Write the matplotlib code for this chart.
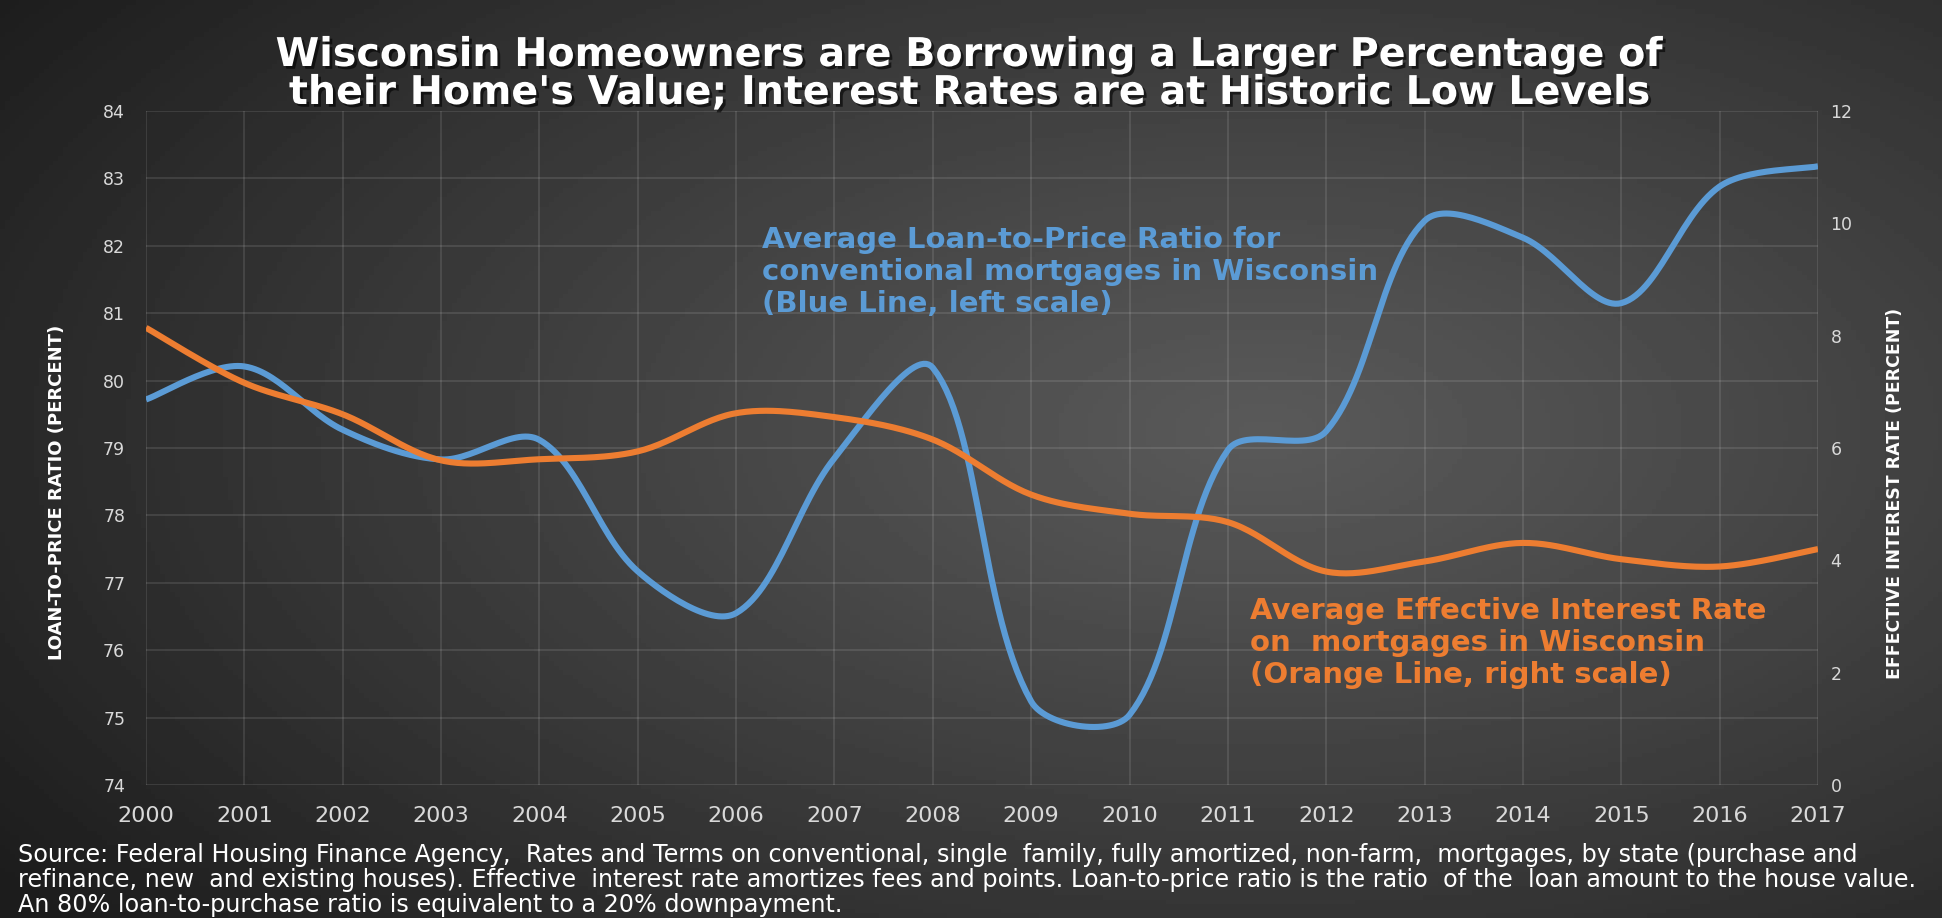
import numpy as np
import matplotlib
matplotlib.use("Agg")
from matplotlib import pyplot as plt
from matplotlib import patheffects

# data (annual values, Wisconsin)
years = list(range(2000, 2018))
loan_to_price = [79.72, 80.21, 79.27, 78.83, 79.12, 77.17, 76.55, 78.85, 80.19,
                 75.24, 75.04, 78.97, 79.25, 82.37, 82.12, 81.15, 82.88, 83.18]
interest_rate = [8.14, 7.16, 6.60, 5.78, 5.80, 5.94, 6.62, 6.55, 6.15,
                 5.17, 4.83, 4.68, 3.80, 3.98, 4.31, 4.02, 3.89, 4.20]

left_ticks = list(range(74, 85))
right_ticks = list(range(0, 13, 2))

title_lines = ["Wisconsin Homeowners are Borrowing a Larger Percentage of",
               "their Home's Value; Interest Rates are at Historic Low Levels"]
blue_note = ("Average Loan-to-Price Ratio for\n"
             "conventional mortgages in Wisconsin\n"
             "(Blue Line, left scale)")
orange_note = ("Average Effective Interest Rate\n"
               "on  mortgages in Wisconsin\n"
               "(Orange Line, right scale)")
footer = ("Source: Federal Housing Finance Agency,  Rates and Terms on conventional, single  family, "
          "fully amortized, non-farm,  mortgages, by state (purchase and\n"
          "refinance, new  and existing houses). Effective  interest rate amortizes fees and points. "
          "Loan-to-price ratio is the ratio  of the  loan amount to the house value.\n"
          "An 80% loan-to-purchase ratio is equivalent to a 20% downpayment.")

BLUE = "#5B9BD5"
ORANGE = "#ED7D31"
TICK = "#d9d9d9"


def excel_smooth(ax, xs, ys, n=30):
    # bezier smoothing done in screen space, handles scaled by chord length
    pts = ax.transData.transform(np.column_stack([xs, ys]))
    out = [pts[0]]
    m = len(pts)
    d = np.hypot(*np.diff(pts, axis=0).T)
    t = np.linspace(0, 1, n)[1:, None]
    for i in range(m - 1):
        p0, p3 = pts[i], pts[i + 1]
        if i == 0:
            h0 = (p3 - p0) / 6
        else:
            h0 = (pts[i + 1] - pts[i - 1]) * d[i] / (d[i - 1] + d[i]) / 3
        if i + 2 >= m:
            h1 = (p3 - p0) / 6
        else:
            h1 = (pts[i + 2] - pts[i]) * d[i] / (d[i] + d[i + 1]) / 3
        c1, c2 = p0 + h0, p3 - h1
        seg = ((1 - t) ** 3) * p0 + 3 * ((1 - t) ** 2) * t * c1 + 3 * (1 - t) * t ** 2 * c2 + t ** 3 * p3
        out.extend(seg)
    out = ax.transData.inverted().transform(np.array(out))
    return out[:, 0], out[:, 1]


fig = plt.figure(figsize=(19.42, 9.18), dpi=100)

# background radial gradient
bg = fig.add_axes([0, 0, 1, 1], zorder=-5)
gx, gy = np.meshgrid(np.linspace(0, 1, 400), np.linspace(0, 1, 200))
r = np.sqrt(((gx - 0.65) / 0.8) ** 2 + ((gy - 0.47) / 0.85) ** 2)
shade = 0.35 - 0.24 * np.clip(r, 0, 1) ** 1.1
bg.imshow(shade, cmap="gray", vmin=0, vmax=1, aspect="auto", extent=[0, 1, 1, 0])
bg.axis("off")

ax = fig.add_axes([146 / 1942, 1 - 785 / 918, 1672 / 1942, 674 / 918])
ax.set_facecolor("none")
ax2 = ax.twinx()
ax2.set_facecolor("none")

ax.set_xlim(2000, 2017)
ax.set_ylim(74, 84)
ax2.set_ylim(0, 12)
ax.set_xticks(years)
ax.set_xticklabels([str(y) for y in years], fontsize=16, color=TICK)
ax.set_yticks(left_ticks)
ax.set_yticklabels([str(v) for v in left_ticks], fontsize=12.5, color=TICK)
ax2.set_yticks(right_ticks)
ax2.set_yticklabels([str(v) for v in right_ticks], fontsize=12.5, color=TICK)
ax.tick_params(axis="x", length=0, pad=15)
ax.tick_params(axis="y", length=0, pad=15)
ax2.tick_params(axis="y", length=0, pad=9)
ax.grid(True, color="white", alpha=0.12, linewidth=1.2)
for a in (ax, ax2):
    for s in a.spines.values():
        s.set_visible(False)

bx, by = excel_smooth(ax, years, loan_to_price)
ax.plot(bx, by, color=BLUE, linewidth=4.4, solid_capstyle="butt", zorder=3)
ox, oy = excel_smooth(ax2, years, interest_rate)
ax2.plot(ox, oy, color=ORANGE, linewidth=4.4, solid_capstyle="butt", zorder=3)

shadow = [patheffects.withSimplePatchShadow(offset=(2, -2), shadow_rgbFace="black", alpha=0.6)]
fig.text(0.4995, 1 - 55 / 918, title_lines[0], ha="center", va="center", fontsize=28.5,
         fontweight="bold", color="white", path_effects=shadow)
fig.text(0.4995, 1 - 93 / 918, title_lines[1], ha="center", va="center", fontsize=28.5,
         fontweight="bold", color="white", path_effects=shadow)

fig.text(762 / 1942, 1 - 272 / 918, blue_note, ha="left", va="center", fontsize=21,
         fontweight="bold", color=BLUE, linespacing=1.2)
fig.text(1250 / 1942, 1 - 643 / 918, orange_note, ha="left", va="center", fontsize=21,
         fontweight="bold", color=ORANGE, linespacing=1.2)

fig.text(57 / 1942, 1 - 492 / 918, "LOAN-TO-PRICE RATIO (PERCENT)", rotation=90,
         ha="center", va="center", fontsize=13, fontweight="bold", color="white")
fig.text(1895 / 1942, 1 - 493 / 918, "EFFECTIVE INTEREST RATE (PERCENT)", rotation=90,
         ha="center", va="center", fontsize=12.5, fontweight="bold", color="white")

fig.text(18 / 1942, 1 - 880 / 918, footer, ha="left", va="center", fontsize=17.2,
         color="white", linespacing=1.03)

fig.savefig("out.png", dpi=100)
